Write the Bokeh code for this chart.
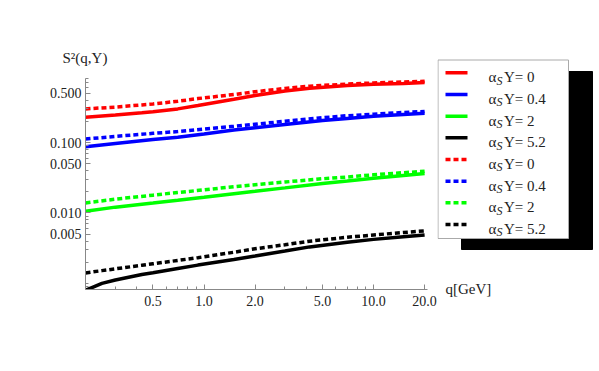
import numpy as np
from bokeh.plotting import figure
from bokeh.layouts import row
from bokeh.models import FixedTicker, Range1d
from bokeh.core.properties import value
from bokeh.embed import file_html
from bokeh.resources import INLINE

# ---- data ----
q = [0.2, 0.3, 0.5, 0.7, 1.0, 1.5, 2.0, 3.0, 5.0, 7.0, 10.0, 15.0, 20.0]
q_red = [0.2, 0.3, 0.43, 0.5, 0.7, 0.92, 1.5, 2.0, 3.0, 4.2, 7.0, 10.0, 15.0, 20.0]
q_black = [0.2, 0.22, 0.25, 0.3, 0.43, 0.5, 0.7, 0.92, 1.5, 2.0, 3.0, 4.2, 7.0, 10.0, 15.0, 20.0]

red_solid = [0.228, 0.245, 0.264, 0.273, 0.30, 0.335, 0.41, 0.465, 0.54, 0.59, 0.645, 0.67, 0.69, 0.71]
red_dash = [0.30, 0.318, 0.342, 0.352, 0.385, 0.42, 0.48, 0.525, 0.585, 0.63, 0.675, 0.70, 0.723, 0.74]
blue_solid = [0.087, 0.097, 0.11, 0.119, 0.132, 0.15, 0.162, 0.18, 0.205, 0.22, 0.235, 0.25, 0.26]
blue_dash = [0.112, 0.122, 0.135, 0.143, 0.155, 0.17, 0.182, 0.20, 0.225, 0.24, 0.252, 0.267, 0.275]
green_solid = [0.0106, 0.0121, 0.0138, 0.0151, 0.0167, 0.0188, 0.0203, 0.0227, 0.0262, 0.0284, 0.031, 0.034, 0.0362]
green_dash = [0.0139, 0.0157, 0.0179, 0.0195, 0.0213, 0.0236, 0.0252, 0.0275, 0.0306, 0.0324, 0.0348, 0.0373, 0.039]
black_solid = [0.0008, 0.00088, 0.001, 0.00112, 0.00134, 0.00142, 0.00163, 0.00182, 0.00219, 0.00245, 0.00288, 0.0033, 0.00385, 0.00422, 0.00461, 0.00488]
black_dash = [0.00141, 0.001455, 0.00152, 0.00161, 0.00181, 0.0019, 0.00212, 0.00232, 0.00277, 0.0031, 0.00354, 0.00398, 0.00452, 0.00487, 0.00528, 0.00557]

legend_values = ["0", "0.4", "2", "5.2"]
colors = ["#ff0000", "#0000ff", "#00ff00", "#000000"]

x_ticks = [0.5, 1.0, 2.0, 5.0, 10.0, 20.0]
x_tick_labels = ["0.5", "1.0", "2.0", "5.0", "10.0", "20.0"]
y_ticks = [0.005, 0.01, 0.05, 0.1, 0.5]
y_tick_labels = ["0.005", "0.010", "0.050", "0.100", "0.500"]

FONT = "Liberation Serif"
TXT = "#222222"
LW = 3.5
DASH = "5 3"

p = figure(width=437, height=371, x_axis_type="log", y_axis_type="log",
           output_backend="svg", toolbar_location=None,
           x_range=Range1d(0.2, 20.8), y_range=Range1d(0.00082, 0.81),
           min_border_left=85, min_border_right=10, min_border_top=78, min_border_bottom=82)
p.frame_align = False
p.outline_line_color = None
p.xgrid.visible = False
p.ygrid.visible = False
p.background_fill_color = None
p.border_fill_color = None

p.title.text = "S²(q,Y)"
p.title.align = "left"
p.title.offset = -23
p.title.standoff = 26
p.title.text_font = FONT
p.title.text_font_size = "15px"
p.title.text_font_style = "normal"
p.title.text_color = TXT

xminor = [m * 10.0 ** e for e in range(-1, 2) for m in range(1, 10)]
yminor = [m * 10.0 ** e for e in range(-4, 1) for m in range(1, 10)]
p.xaxis.ticker = FixedTicker(ticks=x_ticks, minor_ticks=xminor)
p.yaxis.ticker = FixedTicker(ticks=y_ticks, minor_ticks=yminor)
p.xaxis.major_label_overrides = {t: s for t, s in zip(x_ticks, x_tick_labels)}
p.yaxis.major_label_overrides = {t: s for t, s in zip(y_ticks, y_tick_labels)}

for ax in (p.xaxis, p.yaxis):
    ax.axis_line_color = "#888888"
    ax.major_tick_line_color = "#888888"
    ax.minor_tick_line_color = "#888888"
    ax.major_tick_in = 5
    ax.major_tick_out = 0
    ax.minor_tick_in = 3
    ax.minor_tick_out = 0
    ax.major_label_text_font = FONT
    ax.major_label_text_font_size = "14px"
    ax.major_label_text_color = TXT
p.xaxis.major_label_standoff = 6
p.yaxis.major_label_standoff = 4

solid_series = [red_solid, blue_solid, green_solid, black_solid]
dash_series = [red_dash, blue_dash, green_dash, black_dash]
xs_series = [q_red, q, q, q_black]
for i in range(4):
    p.line(xs_series[i], solid_series[i], line_color=colors[i], line_width=LW)
for i in range(4):
    p.line(xs_series[i], dash_series[i], line_color=colors[i], line_width=LW, line_dash=DASH)

# ---- legend panel (pixel coordinates of the page) ----
L = figure(width=162, height=371, output_backend="svg", toolbar_location=None,
           x_range=Range1d(437, 599), y_range=Range1d(371, 0),
           x_axis_location=None, y_axis_location=None,
           min_border_left=0, min_border_right=0, min_border_top=0, min_border_bottom=0)
L.frame_align = False
L.outline_line_color = None
L.xgrid.visible = False
L.ygrid.visible = False
L.background_fill_color = None
L.border_fill_color = None

L.quad(left=[461], right=[592], top=[71], bottom=[249], fill_color="black", line_color="black")
L.quad(left=[437.5], right=[568], top=[59.5], bottom=[238], fill_color="white", line_color="#aaaaaa", line_width=1)

row_y0 = 72.3
row_dy = 21.67
for k in range(8):
    i = k % 4
    yk = row_y0 + k * row_dy
    if k < 4:
        L.line([445, 467], [yk, yk], line_color=colors[i], line_width=LW)
    else:
        L.line([445, 467], [yk, yk], line_color=colors[i], line_width=LW, line_dash="5 3")
    L.text(x=[488], y=[yk + 4.5], text=["α"], text_font=value(FONT), text_font_size="15px",
           text_baseline="alphabetic", text_color=TXT)
    L.text(x=[496], y=[yk + 8], text=["S"], text_font=value(FONT), text_font_size="12px",
           text_font_style="italic", text_baseline="alphabetic", text_color=TXT)
    L.text(x=[503.5], y=[yk + 4.5], text=["Y= " + legend_values[i]], text_font=value(FONT),
           text_font_size="15px", text_baseline="alphabetic", text_color=TXT)

L.text(x=[445], y=[288], text=["q[GeV]"], text_font=value(FONT), text_font_size="15px",
       text_baseline="middle", text_color=TXT)

layout = row(p, L, spacing=0)
open("out.html", "w").write(file_html(layout, INLINE))
